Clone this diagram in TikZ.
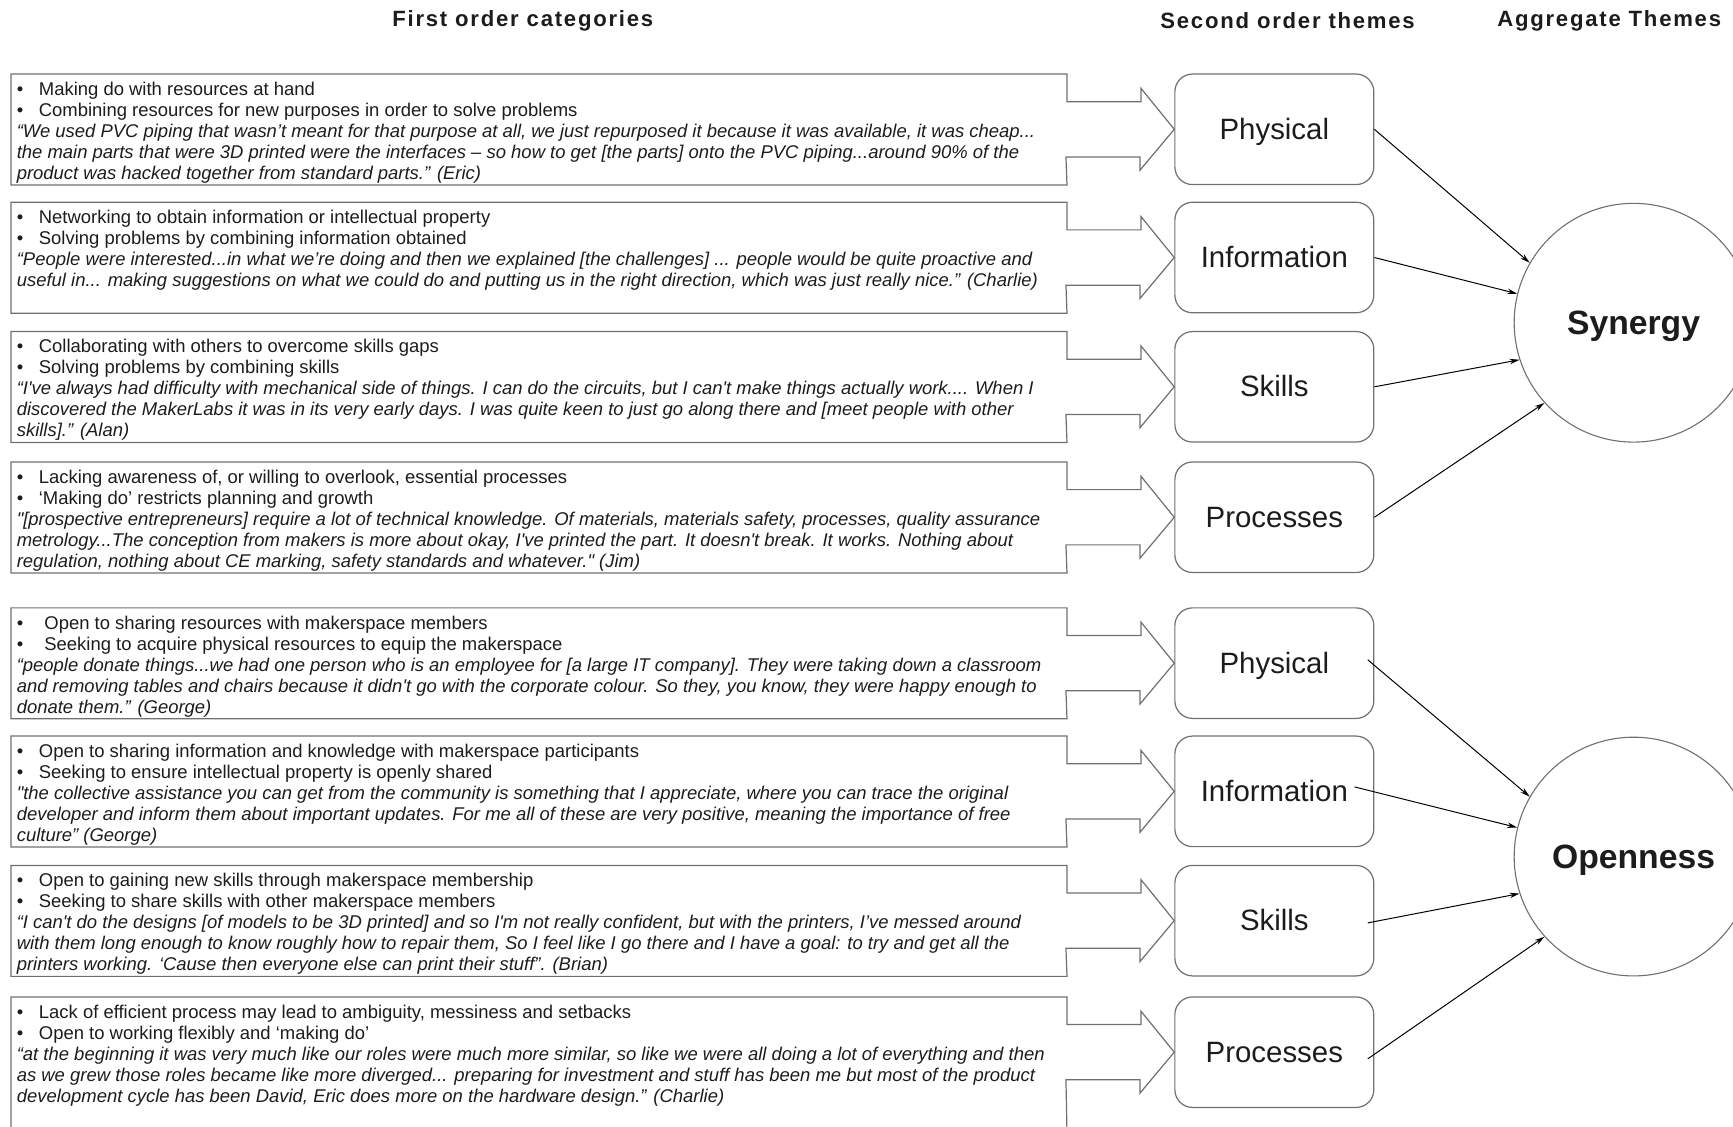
\documentclass[tikz,border=0pt]{standalone}
\usepackage{fontspec}
\setmainfont{Liberation Sans}[Ligatures=TeXOff]
\newfontfamily\headfont{Liberation Sans}[LetterSpace=8]
\usetikzlibrary{arrows.meta}
\definecolor{boxgray}{HTML}{707070}
\definecolor{ink}{HTML}{1C1C1C}
\newcommand{\catitem}[1]{\makebox[20pt][l]{•}#1\\}
\newcommand{\cattext}[2][86pt]{\parbox[c][#1][t]{945pt}{\raggedright#2}}

\begin{document}
\begin{tikzpicture}[x=1pt,y=1pt,
  catbox/.style={anchor=north west,inner xsep=5pt,inner ysep=7pt,text=ink,font=\fontsize{16.7}{19}\selectfont},
  catline/.style={draw=boxgray,line width=1.1pt},
  theme/.style={draw=boxgray,line width=1.1pt,rounded corners=16pt,minimum width=180pt,minimum height=100pt,
    text height=19pt,text depth=1pt,text=ink,font=\fontsize{26.6}{30}\selectfont},
  aggr/.style={circle,draw=boxgray,line width=1pt,minimum size=216pt,text height=22pt,text depth=1pt,
    text=ink,font=\bfseries\fontsize{30.5}{34}\selectfont},
  link/.style={-{Stealth[length=9pt,width=5pt]},line width=0.9pt},
  header/.style={text=ink,font=\headfont\bfseries\fontsize{20}{23}\selectfont}]

  \path[use as bounding box,clip] (0,0) rectangle (1568,-1019);

  % Column headers
  \node[header] (h1) at (473,-19) {First order categories};
  \node[header] (h2) at (1165,-19) {Second order themes};
  \node[header] (h3) at (1456,-19) {Aggregate Themes};

  % First order categories
  \node[catbox] (cat1) at (10,-67) {\cattext{%
    \catitem{Making do with resources at hand}
    \catitem{Combining resources for new purposes in order to solve problems}
    \itshape “We used PVC piping that wasn’t meant for that purpose at all, we just repurposed it because it was available, it was cheap...\\
    the main parts that were 3D printed were the interfaces – so how to get [the parts] onto the PVC piping...around 90\% of the\\
    product was hacked together from standard parts.” (Eric)}};
  \node[catbox] (cat2) at (10,-183) {\cattext{%
    \catitem{Networking to obtain information or intellectual property}
    \catitem{Solving problems by combining information obtained}
    \itshape “People were interested...in what we’re doing and then we explained [the challenges] ... people would be quite proactive and\\
    useful in... making suggestions on what we could do and putting us in the right direction, which was just really nice.” (Charlie)}};
  \node[catbox] (cat3) at (10,-300) {\cattext{%
    \catitem{Collaborating with others to overcome skills gaps}
    \catitem{Solving problems by combining skills}
    \itshape “I've always had difficulty with mechanical side of things. I can do the circuits, but I can't make things actually work.... When I\\
    discovered the MakerLabs it was in its very early days. I was quite keen to just go along there and [meet people with other\\
    skills].” (Alan)}};
  \node[catbox] (cat4) at (10,-418) {\cattext{%
    \catitem{Lacking awareness of, or willing to overlook, essential processes}
    \catitem{‘Making do’ restricts planning and growth}
    \itshape "[prospective entrepreneurs] require a lot of technical knowledge. Of materials, materials safety, processes, quality assurance\\
    metrology...The conception from makers is more about okay, I've printed the part. It doesn't break. It works. Nothing about\\
    regulation, nothing about CE marking, safety standards and whatever." (Jim)}};
  \node[catbox] (cat5) at (10,-550) {\cattext{%
    \catitem{\hspace{5pt}Open to sharing resources with makerspace members}
    \catitem{\hspace{5pt}Seeking to acquire physical resources to equip the makerspace}
    \itshape “people donate things...we had one person who is an employee for [a large IT company]. They were taking down a classroom\\
    and removing tables and chairs because it didn't go with the corporate colour. So they, you know, they were happy enough to\\
    donate them.” (George)}};
  \node[catbox] (cat6) at (10,-666) {\cattext{%
    \catitem{Open to sharing information and knowledge with makerspace participants}
    \catitem{Seeking to ensure intellectual property is openly shared}
    \itshape "the collective assistance you can get from the community is something that I appreciate, where you can trace the original\\
    developer and inform them about important updates. For me all of these are very positive, meaning the importance of free\\
    culture” (George)}};
  \node[catbox] (cat7) at (10,-783) {\cattext{%
    \catitem{Open to gaining new skills through makerspace membership}
    \catitem{Seeking to share skills with other makerspace members}
    \itshape “I can't do the designs [of models to be 3D printed] and so I'm not really confident, but with the printers, I’ve messed around\\
    with them long enough to know roughly how to repair them, So I feel like I go there and I have a goal: to try and get all the\\
    printers working. ‘Cause then everyone else can print their stuff”. (Brian)}};
  \node[catbox] (cat8) at (10,-902) {\cattext[109pt]{%
    \catitem{Lack of efficient process may lead to ambiguity, messiness and setbacks}
    \catitem{Open to working flexibly and ‘making do’}
    \itshape “at the beginning it was very much like our roles were much more similar, so like we were all doing a lot of everything and then\\
    as we grew those roles became like more diverged... preparing for investment and stuff has been me but most of the product\\
    development cycle has been David, Eric does more on the hardware design.” (Charlie)}};

  % Second order themes
  \node[theme] (phy1) at (1153,-117) {Physical};
  \node[theme] (inf1) at (1153,-233) {Information};
  \node[theme] (ski1) at (1153,-350) {Skills};
  \node[theme] (pro1) at (1153,-468) {Processes};
  \node[theme] (phy2) at (1153,-600) {Physical};
  \node[theme] (inf2) at (1153,-716) {Information};
  \node[theme] (ski2) at (1153,-833) {Skills};
  \node[theme] (pro2) at (1153,-952) {Processes};

  % Boxes with arrow heads
  \draw[catline] (cat1.north west) -- (cat1.north east) -- ++(0,-25) -- ++(67,0) -- ++(0,12) -- (phy1.west)
    -- ++(-31,-37) -- ++(0,12) -- ++(-67,0) -- (cat1.south east) -- (cat1.south west) -- cycle;
  \draw[catline] (cat2.north west) -- (cat2.north east) -- ++(0,-25) -- ++(67,0) -- ++(0,12) -- (inf1.west)
    -- ++(-31,-37) -- ++(0,12) -- ++(-67,0) -- (cat2.south east) -- (cat2.south west) -- cycle;
  \draw[catline] (cat3.north west) -- (cat3.north east) -- ++(0,-25) -- ++(67,0) -- ++(0,12) -- (ski1.west)
    -- ++(-31,-37) -- ++(0,12) -- ++(-67,0) -- (cat3.south east) -- (cat3.south west) -- cycle;
  \draw[catline] (cat4.north west) -- (cat4.north east) -- ++(0,-25) -- ++(67,0) -- ++(0,12) -- (pro1.west)
    -- ++(-31,-37) -- ++(0,12) -- ++(-67,0) -- (cat4.south east) -- (cat4.south west) -- cycle;
  \draw[catline] (cat5.north west) -- (cat5.north east) -- ++(0,-25) -- ++(67,0) -- ++(0,12) -- (phy2.west)
    -- ++(-31,-37) -- ++(0,12) -- ++(-67,0) -- (cat5.south east) -- (cat5.south west) -- cycle;
  \draw[catline] (cat6.north west) -- (cat6.north east) -- ++(0,-25) -- ++(67,0) -- ++(0,12) -- (inf2.west)
    -- ++(-31,-37) -- ++(0,12) -- ++(-67,0) -- (cat6.south east) -- (cat6.south west) -- cycle;
  \draw[catline] (cat7.north west) -- (cat7.north east) -- ++(0,-25) -- ++(67,0) -- ++(0,12) -- (ski2.west)
    -- ++(-31,-37) -- ++(0,12) -- ++(-67,0) -- (cat7.south east) -- (cat7.south west) -- cycle;
  \draw[catline] (cat8.north west) -- (cat8.north east) -- ++(0,-25) -- ++(67,0) -- ++(0,12) -- (pro2.west)
    -- ++(-31,-37) -- ++(0,12) -- ++(-67,0) -- (cat8.south east) -- (cat8.south west) -- cycle;

  % Aggregate themes
  \node[aggr] (syn) at (1478,-292) {Synergy};
  \node[aggr] (opn) at (1478,-775) {Openness};

  \draw[link] (phy1.east) -- (syn.150);
  \draw[link] (inf1.east) -- (syn.166);
  \draw[link] (ski1.east) -- (syn.198);
  \draw[link] (pro1.east) -- (syn.222);
  \draw[link] ([xshift=-6pt,yshift=3pt]phy2.east) -- (opn.150);
  \draw[link] ([xshift=-18pt,yshift=4pt]inf2.east) -- (opn.166);
  \draw[link] ([xshift=-6pt,yshift=-2pt]ski2.east) -- (opn.198);
  \draw[link] ([xshift=-6pt,yshift=-6pt]pro2.east) -- (opn.222);
\end{tikzpicture}
\end{document}
